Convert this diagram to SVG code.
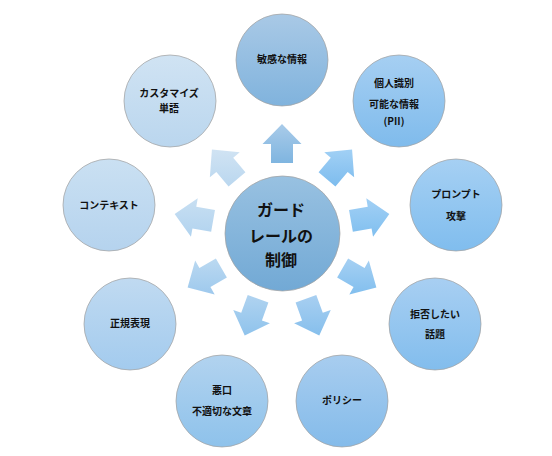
<svg xmlns="http://www.w3.org/2000/svg" width="552" height="456" viewBox="0 0 552 456">
<style>
.n{stroke:#a3a3a3;stroke-width:0.75}
.t{font-family:"Noto Sans CJK JP","Noto Sans CJK SC",sans-serif;font-weight:bold;font-size:10px;fill:#111;text-anchor:middle;dominant-baseline:central}
.tc{font-size:16px}
.a{stroke:none}
</style>
<defs>
<linearGradient id="gC" x1="0" y1="0" x2="0" y2="1"><stop offset="0" stop-color="#98c1e1"/><stop offset="1" stop-color="#72a9d5"/></linearGradient>
<linearGradient id="g0" x1="0" y1="0" x2="0" y2="1"><stop offset="0" stop-color="#a9c9e6"/><stop offset="1" stop-color="#80b3dd"/></linearGradient>
<linearGradient id="g1" x1="0" y1="0" x2="0" y2="1"><stop offset="0" stop-color="#a6cff2"/><stop offset="1" stop-color="#7fbbec"/></linearGradient>
<linearGradient id="g2" x1="0" y1="0" x2="0" y2="1"><stop offset="0" stop-color="#a6d0f3"/><stop offset="1" stop-color="#80bdee"/></linearGradient>
<linearGradient id="g3" x1="0" y1="0" x2="0" y2="1"><stop offset="0" stop-color="#a8cff2"/><stop offset="1" stop-color="#82bded"/></linearGradient>
<linearGradient id="g4" x1="0" y1="0" x2="0" y2="1"><stop offset="0" stop-color="#a8cdef"/><stop offset="1" stop-color="#84bbea"/></linearGradient>
<linearGradient id="g5" x1="0" y1="0" x2="0" y2="1"><stop offset="0" stop-color="#b2d3ef"/><stop offset="1" stop-color="#8ec2eb"/></linearGradient>
<linearGradient id="g6" x1="0" y1="0" x2="0" y2="1"><stop offset="0" stop-color="#c0daf1"/><stop offset="1" stop-color="#a3cbee"/></linearGradient>
<linearGradient id="g7" x1="0" y1="0" x2="0" y2="1"><stop offset="0" stop-color="#cae0f2"/><stop offset="1" stop-color="#b5d3ee"/></linearGradient>
<linearGradient id="g8" x1="0" y1="0" x2="0" y2="1"><stop offset="0" stop-color="#d0e3f3"/><stop offset="1" stop-color="#bad6ee"/></linearGradient>
<linearGradient id="a0" x1="0" y1="0" x2="0" y2="1"><stop offset="0" stop-color="#a9cbe9"/><stop offset="1" stop-color="#7fb5e0"/></linearGradient>
<linearGradient id="a1" x1="0" y1="0" x2="0" y2="1"><stop offset="0" stop-color="#a1d0f5"/><stop offset="1" stop-color="#7dbcee"/></linearGradient>
<linearGradient id="a2" x1="0" y1="0" x2="0" y2="1"><stop offset="0" stop-color="#a2d0f5"/><stop offset="1" stop-color="#80bfef"/></linearGradient>
<linearGradient id="a3" x1="0" y1="0" x2="0" y2="1"><stop offset="0" stop-color="#a6d0f3"/><stop offset="1" stop-color="#82bfee"/></linearGradient>
<linearGradient id="a4" x1="0" y1="0" x2="0" y2="1"><stop offset="0" stop-color="#a8cff1"/><stop offset="1" stop-color="#86bfec"/></linearGradient>
<linearGradient id="a5" x1="0" y1="0" x2="0" y2="1"><stop offset="0" stop-color="#b0d3f0"/><stop offset="1" stop-color="#8fc3ec"/></linearGradient>
<linearGradient id="a6" x1="0" y1="0" x2="0" y2="1"><stop offset="0" stop-color="#bbd9f1"/><stop offset="1" stop-color="#9ec9ed"/></linearGradient>
<linearGradient id="a7" x1="0" y1="0" x2="0" y2="1"><stop offset="0" stop-color="#c8dff2"/><stop offset="1" stop-color="#b1d3ef"/></linearGradient>
<linearGradient id="a8" x1="0" y1="0" x2="0" y2="1"><stop offset="0" stop-color="#d0e3f3"/><stop offset="1" stop-color="#bad7ef"/></linearGradient>
</defs>
<rect width="552" height="456" fill="#ffffff"/>
<g id="connectors">
<polygon class="a" fill="url(#a0)" points="271,163 271,144 262.5,144 282,124 301.5,144 293,144 293,163"/>
<polygon class="a" fill="url(#a1)" points="318.57,172.31 330.78,157.76 324.27,152.3 352.07,149.51 354.15,177.36 347.64,171.9 335.43,186.45"/>
<polygon class="a" fill="url(#a2)" points="349.03,210.02 367.74,206.72 366.26,198.35 389.34,214.08 373.04,236.75 371.56,228.38 352.85,231.68"/>
<polygon class="a" fill="url(#a3)" points="348.12,258.47 364.57,267.97 368.82,260.61 376.39,287.5 349.32,294.39 353.57,287.03 337.12,277.53"/>
<polygon class="a" fill="url(#a4)" points="316.28,295.02 322.78,312.87 330.76,309.96 319.28,335.43 294.12,323.3 302.1,320.39 295.6,302.54"/>
<polygon class="a" fill="url(#a5)" points="247.72,295.02 241.22,312.87 233.24,309.96 244.72,335.43 269.88,323.3 261.9,320.39 268.4,302.54"/>
<polygon class="a" fill="url(#a6)" points="215.88,258.47 199.43,267.97 195.18,260.61 187.61,287.5 214.68,294.39 210.43,287.03 226.88,277.53"/>
<polygon class="a" fill="url(#a7)" points="214.97,210.02 196.26,206.72 197.74,198.35 174.66,214.08 190.96,236.75 192.44,228.38 211.15,231.68"/>
<polygon class="a" fill="url(#a8)" points="245.43,172.31 233.22,157.76 239.73,152.3 211.93,149.51 209.85,177.36 216.36,171.9 228.57,186.45"/>
</g>
<g id="center">
<circle class="n" cx="282.5" cy="233.5" r="57.5" fill="url(#gC)"/>
<text class="t tc" x="281" y="209">ガード</text>
<text class="t tc" x="281" y="235">レールの</text>
<text class="t tc" x="281" y="259">制御</text>
</g>
<g id="node-sensitive">
<circle class="n" cx="282" cy="60" r="46" fill="url(#g0)"/>
<text class="t" x="282" y="58">敏感な情報</text>
</g>
<g id="node-pii">
<circle class="n" cx="399" cy="101" r="46" fill="url(#g1)"/>
<text class="t" x="394" y="82">個人識別</text>
<text class="t" x="394" y="103">可能な情報</text>
<text class="t" x="394" y="120">(PII)</text>
</g>
<g id="node-prompt">
<circle class="n" cx="456" cy="205" r="46" fill="url(#g2)"/>
<text class="t" x="456" y="193">プロンプト</text>
<text class="t" x="456" y="215">攻撃</text>
</g>
<g id="node-deny">
<circle class="n" cx="435" cy="324" r="46" fill="url(#g3)"/>
<text class="t" x="435" y="313">拒否したい</text>
<text class="t" x="435" y="333">話題</text>
</g>
<g id="node-policy">
<circle class="n" cx="342" cy="401" r="46" fill="url(#g4)"/>
<text class="t" x="342" y="399">ポリシー</text>
</g>
<g id="node-abuse">
<circle class="n" cx="222" cy="401" r="46" fill="url(#g5)"/>
<text class="t" x="222" y="389">悪口</text>
<text class="t" x="222" y="410">不適切な文章</text>
</g>
<g id="node-regex">
<circle class="n" cx="130" cy="324" r="46" fill="url(#g6)"/>
<text class="t" x="130" y="322">正規表現</text>
</g>
<g id="node-context">
<circle class="n" cx="109" cy="205" r="46" fill="url(#g7)"/>
<text class="t" x="109" y="204">コンテキスト</text>
</g>
<g id="node-custom">
<circle class="n" cx="170" cy="101" r="46" fill="url(#g8)"/>
<text class="t" x="169" y="92">カスタマイズ</text>
<text class="t" x="169" y="107">単語</text>
</g>
</svg>
